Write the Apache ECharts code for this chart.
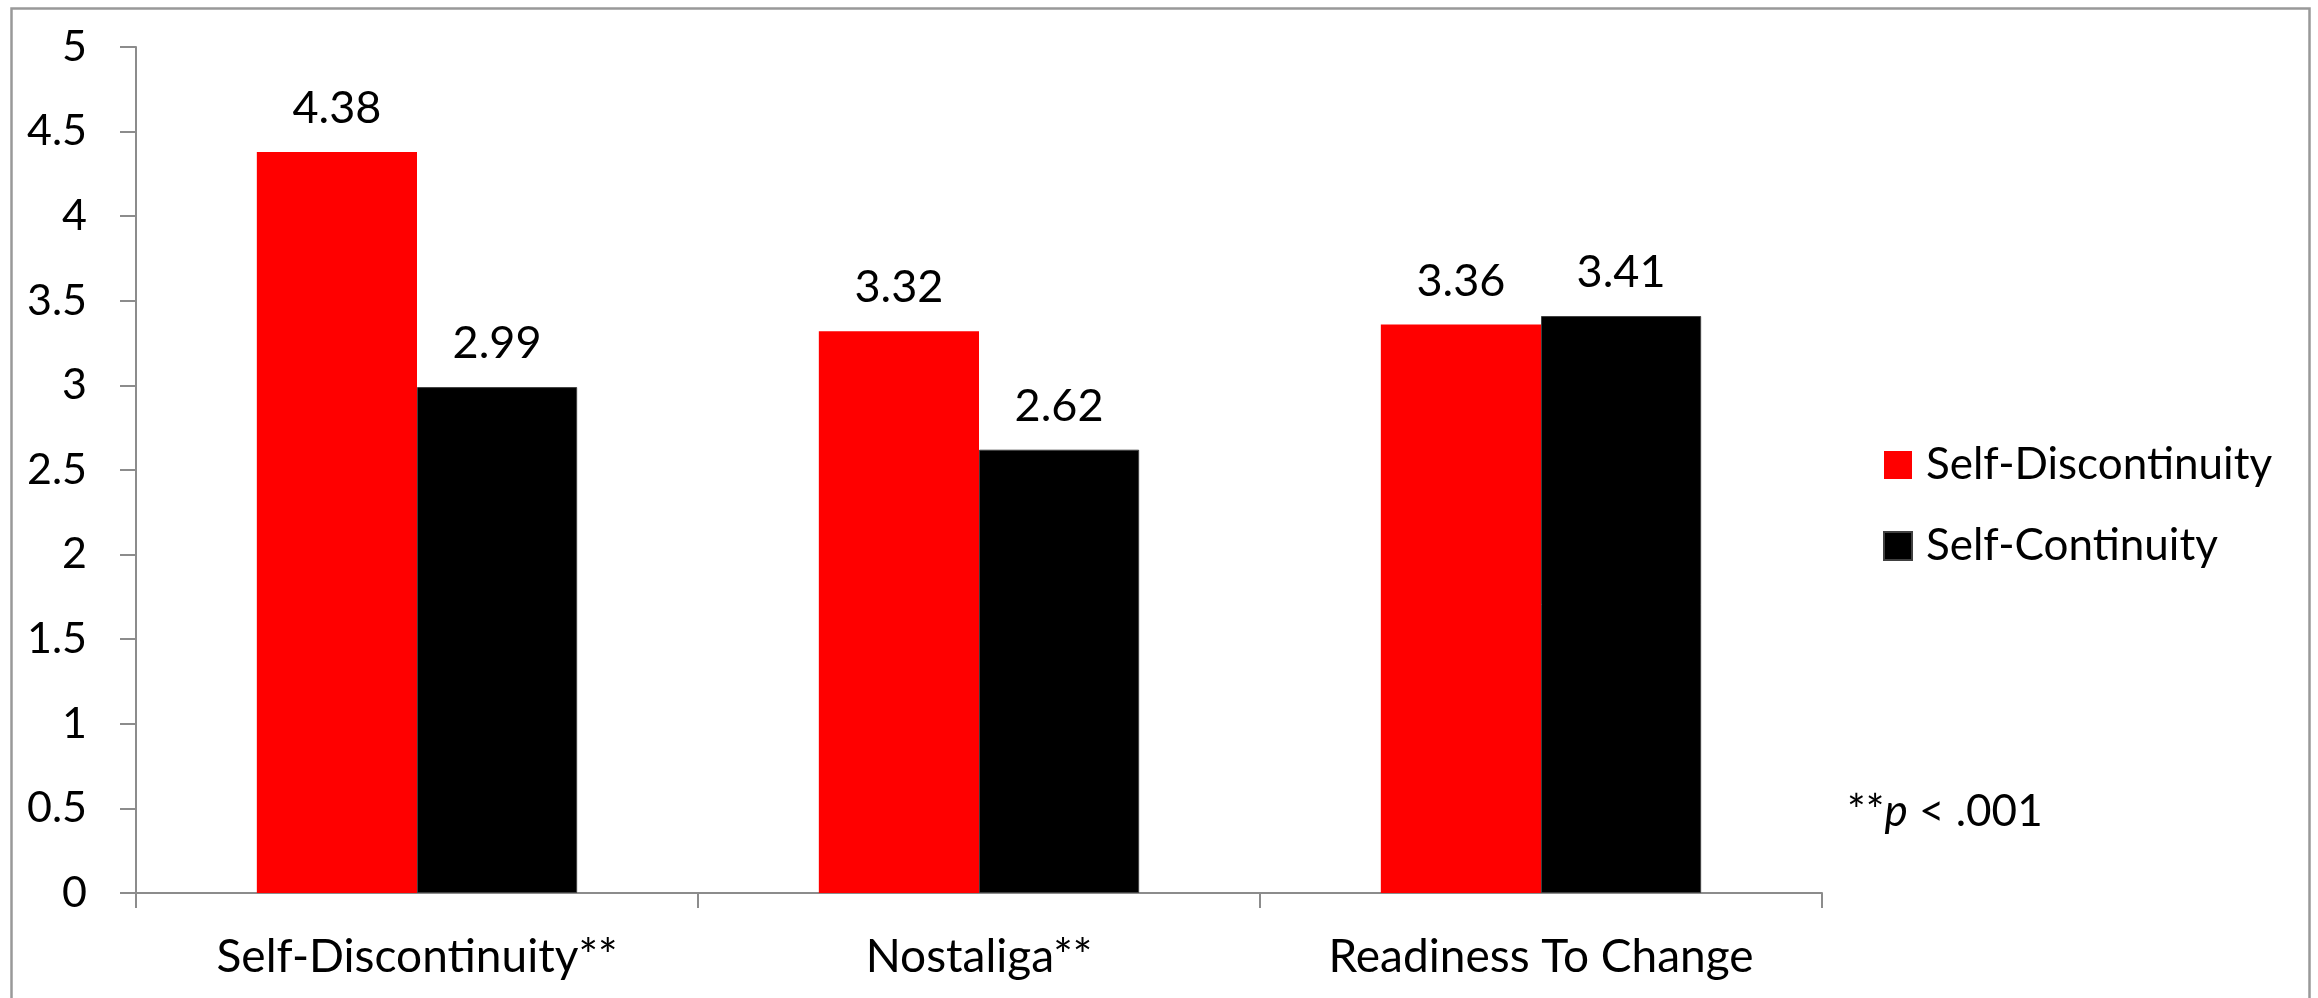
<!DOCTYPE html>
<html>
<head>
<meta charset="utf-8">
<script src="https://cdn.jsdelivr.net/npm/echarts@6/dist/echarts.min.js"></script>
<style>
  html, body { margin: 0; padding: 0; background: #fff; }
  #chart { width: 2318px; height: 998px; }
</style>
</head>
<body>
<div id="chart"></div>
<script>
// Category names along the x axis
const categories = ['Self-Discontinuity**', 'Nostaliga**', 'Readiness To Change'];
// Mean scores per condition
const selfDiscontinuity = [4.38, 3.32, 3.36];
const selfContinuity = [2.99, 2.62, 3.41];
// Value axis range and step
const yMin = 0;
const yMax = 5;
const yStep = 0.5;

const FONT = 'Lato, "Open Sans", sans-serif';
const AXIS_GRAY = '#8c8c8c';

const chart = echarts.init(document.getElementById('chart'), null, { renderer: 'canvas' });

const barLabel = {
  show: true,
  position: 'top',
  distance: 21,
  color: '#000',
  fontFamily: FONT,
  fontSize: 45,
  formatter: p => p.value.toFixed(2)
};

chart.setOption({
  backgroundColor: '#fff',
  animation: false,
  textStyle: { fontFamily: FONT },
  grid: { left: 136, top: 47, right: 496, bottom: 105, containLabel: false },
  title: {
    left: 1842,
    top: 785,
    text: '{n|**}{i|p}{n| < .001}',
    textStyle: {
      fontWeight: 'normal',
      rich: {
        n: { fontFamily: FONT, fontSize: 44, fontWeight: 'normal', color: '#000' },
        i: { fontFamily: FONT, fontSize: 44, fontWeight: 'normal', fontStyle: 'italic', color: '#000' }
      }
    }
  },
  legend: {
    orient: 'vertical',
    left: 1878,
    top: 438,
    itemWidth: 28,
    itemHeight: 28,
    itemGap: 37,
    icon: 'rect',
    textStyle: {
      fontFamily: FONT,
      fontSize: 44,
      color: '#000',
      lineHeight: 40,
      padding: [0, 0, 0, 9]
    },
    data: ['Self-Discontinuity', 'Self-Continuity']
  },
  xAxis: {
    type: 'category',
    data: categories,
    axisLine: { lineStyle: { color: AXIS_GRAY, width: 2 } },
    axisTick: { show: true, length: 15, inside: false, lineStyle: { color: AXIS_GRAY, width: 2 } },
    axisLabel: { color: '#000', fontFamily: FONT, fontSize: 46, margin: 41 }
  },
  yAxis: {
    type: 'value',
    min: yMin,
    max: yMax,
    interval: yStep,
    splitLine: { show: false },
    axisLine: { show: true, lineStyle: { color: AXIS_GRAY, width: 2 } },
    axisTick: { show: true, length: 16, lineStyle: { color: AXIS_GRAY, width: 2 } },
    axisLabel: { color: '#000', fontFamily: FONT, fontSize: 43, margin: 49 }
  },
  series: [
    {
      name: 'Self-Discontinuity',
      type: 'bar',
      data: selfDiscontinuity,
      barGap: '0%',
      barCategoryGap: '43%',
      itemStyle: { color: '#ff0000' },
      label: barLabel
    },
    {
      name: 'Self-Continuity',
      type: 'bar',
      data: selfContinuity,
      barGap: '0%',
      barCategoryGap: '43%',
      itemStyle: { color: '#000000', borderColor: '#404040', borderWidth: 1 },
      label: barLabel
    }
  ],
  graphic: [
    {
      type: 'rect',
      left: 9,
      top: 6,
      shape: { width: 2298, height: 1010 },
      style: { fill: null, stroke: '#999', lineWidth: 2.5 },
      silent: true
    }
  ]
});
</script>
</body>
</html>
